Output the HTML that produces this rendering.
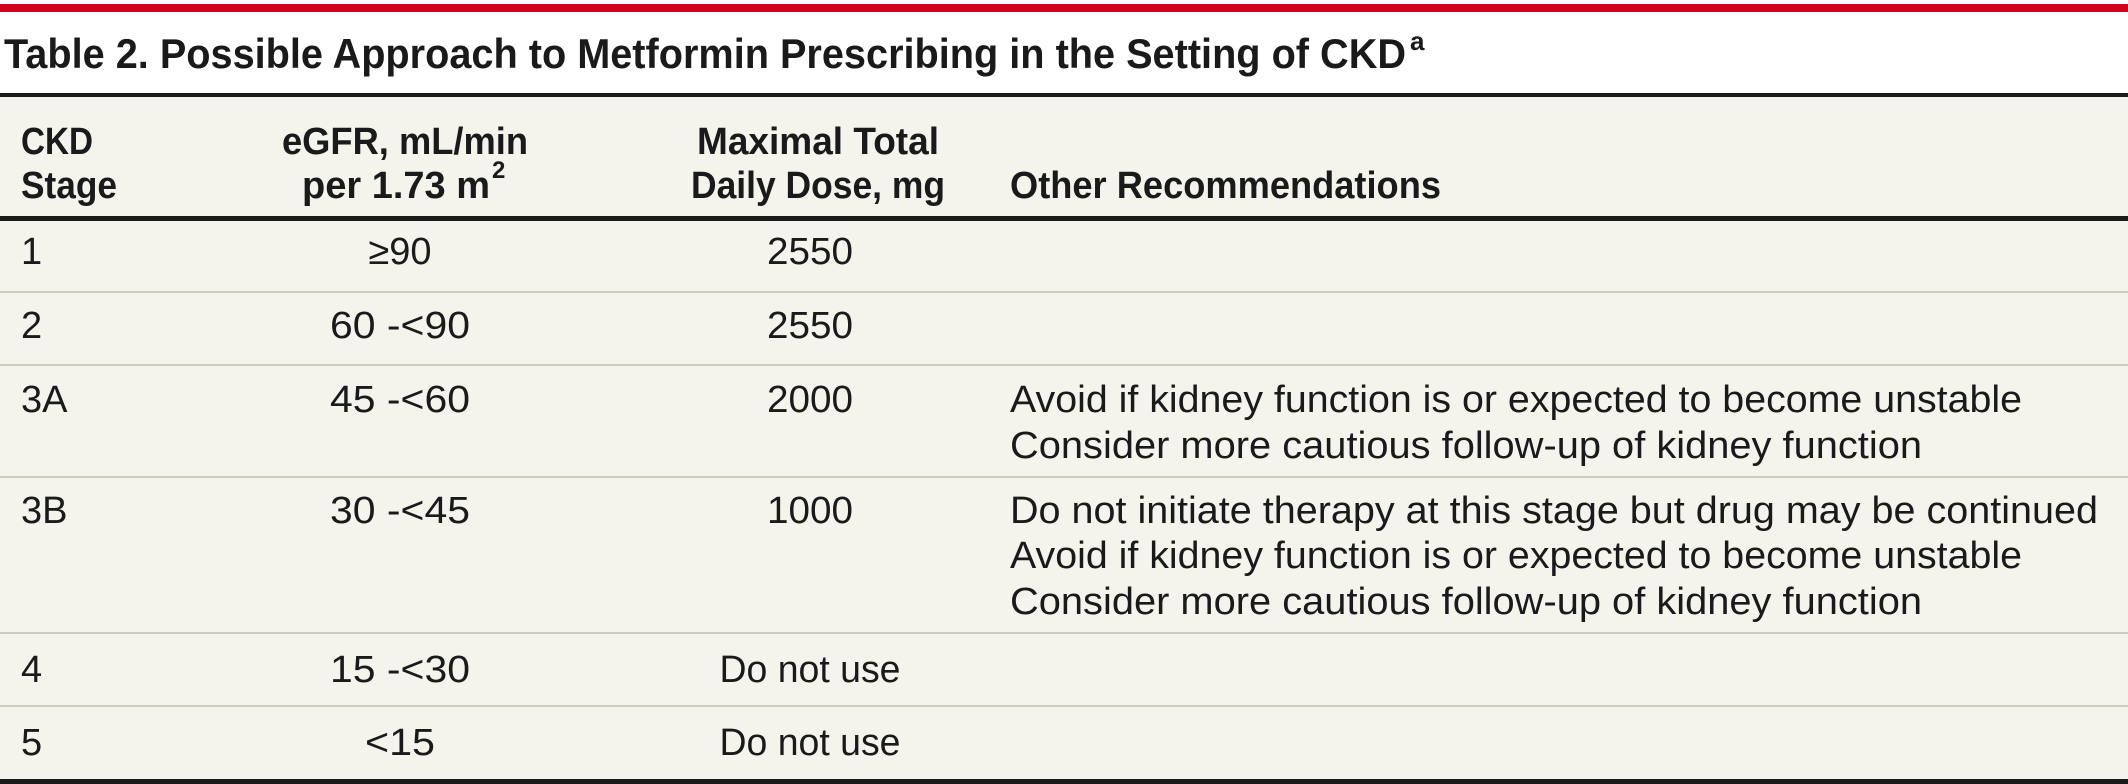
<!DOCTYPE html>
<html><head><meta charset="utf-8"><style>
html,body{margin:0;padding:0;background:#fff;}
svg{display:block;}
text{font-family:"Liberation Sans",sans-serif;fill:#1a1a1a;}
.h{font-size:38px;font-weight:bold;}
.b{font-size:38px;}
</style></head><body>
<svg width="2128" height="784" viewBox="0 0 2128 784">
<rect x="0" y="4" width="2128" height="8" fill="#d0021b"/>
<text x="4" y="68" style="font-size:42px;font-weight:bold" textLength="1402" lengthAdjust="spacingAndGlyphs">Table 2. Possible Approach to Metformin Prescribing in the Setting of CKD</text>
<text x="1410" y="50" style="font-size:26px;font-weight:bold">a</text>
<rect x="0" y="95" width="2128" height="685" fill="#f4f3ec"/>
<rect x="0" y="93" width="2128" height="4" fill="#1a1a1a"/>
<g>
<text class="h" x="21" y="154" textLength="72" lengthAdjust="spacingAndGlyphs">CKD</text>
<text class="h" x="21" y="198" textLength="96" lengthAdjust="spacingAndGlyphs">Stage</text>
<text class="h" x="405" y="154" text-anchor="middle" textLength="246" lengthAdjust="spacingAndGlyphs">eGFR, mL/min</text>
<text class="h" x="396" y="198" text-anchor="middle" textLength="188" lengthAdjust="spacingAndGlyphs">per 1.73 m</text>
<text x="492" y="178" style="font-size:24px;font-weight:bold">2</text>
<text class="h" x="818" y="154" text-anchor="middle" textLength="242" lengthAdjust="spacingAndGlyphs">Maximal Total</text>
<text class="h" x="818" y="198" text-anchor="middle" textLength="254" lengthAdjust="spacingAndGlyphs">Daily Dose, mg</text>
<text class="h" x="1010" y="198" textLength="431" lengthAdjust="spacingAndGlyphs">Other Recommendations</text>
</g>
<rect x="0" y="216" width="2128" height="5" fill="#1a1a1a"/>
<g fill="#cfcbc0">
<rect x="0" y="291" width="2128" height="2"/>
<rect x="0" y="364" width="2128" height="2"/>
<rect x="0" y="476" width="2128" height="2"/>
<rect x="0" y="632" width="2128" height="2"/>
<rect x="0" y="705" width="2128" height="2"/>
</g>
<g>
<text class="b" x="21" y="264">1</text>
<text class="b" x="400" y="264" text-anchor="middle">≥90</text>
<text class="b" x="810" y="264" text-anchor="middle" textLength="86" lengthAdjust="spacingAndGlyphs">2550</text>
</g>
<g>
<text class="b" x="21" y="338">2</text>
<text class="b" x="400" y="338" text-anchor="middle" textLength="140" lengthAdjust="spacingAndGlyphs">60 -&lt;90</text>
<text class="b" x="810" y="338" text-anchor="middle" textLength="86" lengthAdjust="spacingAndGlyphs">2550</text>
</g>
<g>
<text class="b" x="21" y="412">3A</text>
<text class="b" x="400" y="412" text-anchor="middle" textLength="140" lengthAdjust="spacingAndGlyphs">45 -&lt;60</text>
<text class="b" x="810" y="412" text-anchor="middle" textLength="86" lengthAdjust="spacingAndGlyphs">2000</text>
<text class="b" x="1010" y="412" textLength="1012" lengthAdjust="spacingAndGlyphs">Avoid if kidney function is or expected to become unstable</text>
<text class="b" x="1010" y="458" textLength="912" lengthAdjust="spacingAndGlyphs">Consider more cautious follow-up of kidney function</text>
</g>
<g>
<text class="b" x="21" y="523">3B</text>
<text class="b" x="400" y="523" text-anchor="middle" textLength="140" lengthAdjust="spacingAndGlyphs">30 -&lt;45</text>
<text class="b" x="810" y="523" text-anchor="middle" textLength="86" lengthAdjust="spacingAndGlyphs">1000</text>
<text class="b" x="1010" y="523" textLength="1088" lengthAdjust="spacingAndGlyphs">Do not initiate therapy at this stage but drug may be continued</text>
<text class="b" x="1010" y="568" textLength="1012" lengthAdjust="spacingAndGlyphs">Avoid if kidney function is or expected to become unstable</text>
<text class="b" x="1010" y="614" textLength="912" lengthAdjust="spacingAndGlyphs">Consider more cautious follow-up of kidney function</text>
</g>
<g>
<text class="b" x="21" y="682">4</text>
<text class="b" x="400" y="682" text-anchor="middle" textLength="140" lengthAdjust="spacingAndGlyphs">15 -&lt;30</text>
<text class="b" x="810" y="682" text-anchor="middle" textLength="181" lengthAdjust="spacingAndGlyphs">Do not use</text>
</g>
<g>
<text class="b" x="21" y="755">5</text>
<text class="b" x="400" y="755" text-anchor="middle" textLength="70" lengthAdjust="spacingAndGlyphs">&lt;15</text>
<text class="b" x="810" y="755" text-anchor="middle" textLength="181" lengthAdjust="spacingAndGlyphs">Do not use</text>
</g>
<rect x="0" y="779" width="2128" height="5" fill="#1a1a1a"/>
</svg>
</body></html>
